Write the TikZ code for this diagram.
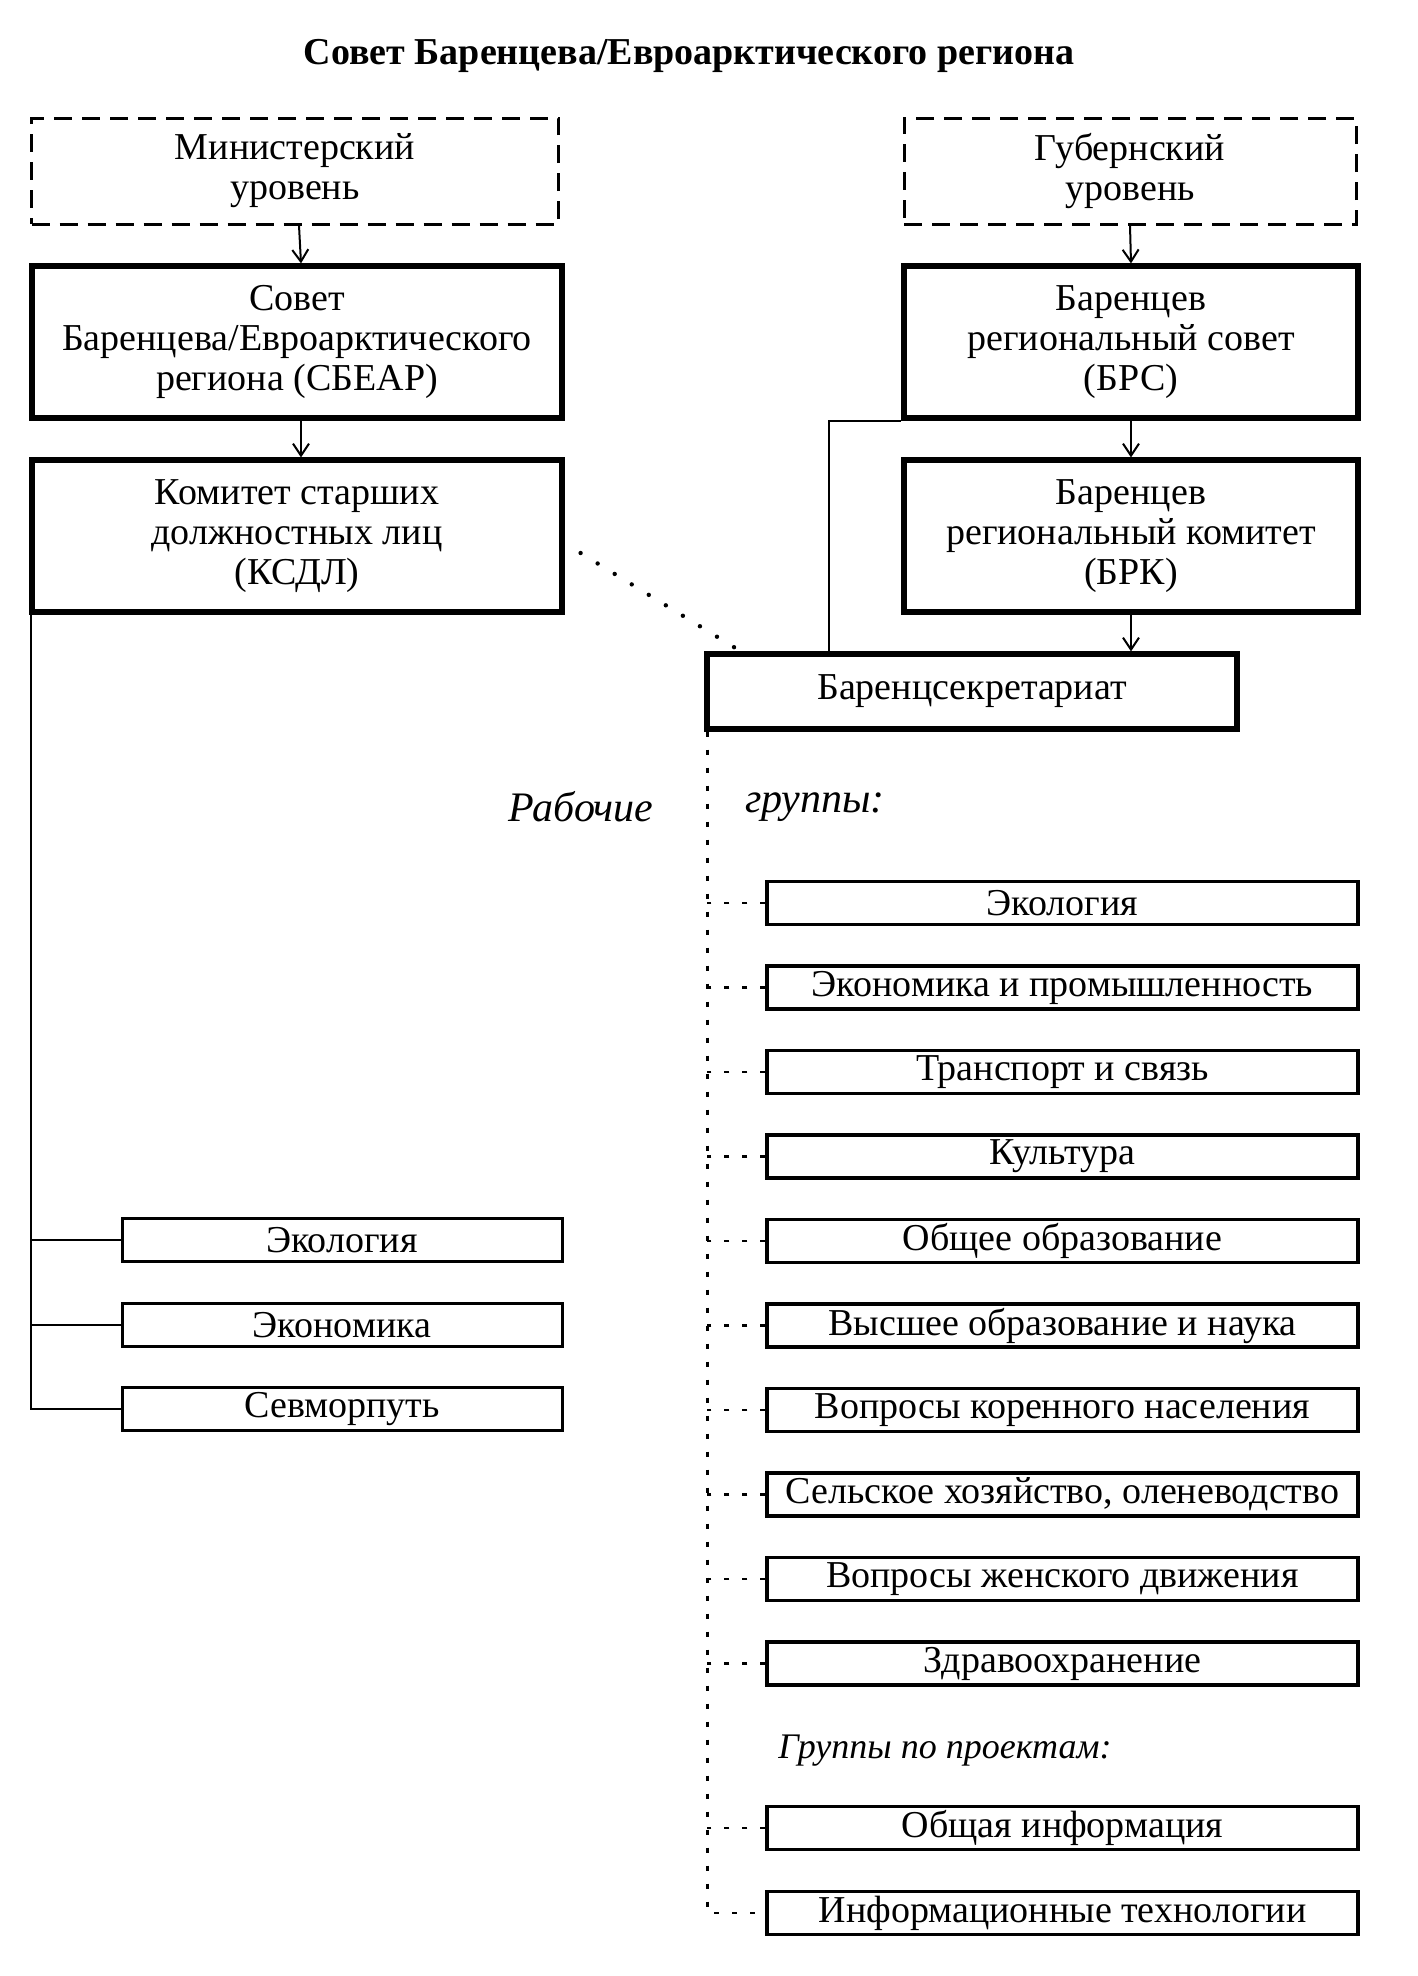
\documentclass[tikz,border=0pt]{standalone}
\usepackage{fontspec}
\setmainfont{Liberation Serif}
\usetikzlibrary{arrows.meta,calc}
\begin{document}
\begin{tikzpicture}[x=0.5pt,y=-0.5pt,
  txt/.style={font=\fontsize{19}{20}\selectfont},
  dbox/.style={txt,draw,line width=1.5pt,dash pattern=on 9pt off 5pt,align=center,inner sep=0pt},
  tbox/.style={txt,draw,line width=2.6pt,align=center,inner sep=0pt},
  lsmall/.style={txt,draw,line width=1.5pt,inner sep=0pt,minimum width=220pt,minimum height=21.5pt},
  rsmall/.style={txt,draw,line width=1.6pt,inner sep=0pt,minimum width=295.5pt,minimum height=21.5pt},
  conn/.style={line width=1pt},
  arr/.style={line width=1pt,-{Straight Barb[length=6pt,width=8pt,line width=1pt]}},
  dots/.style={line width=2.2pt,line cap=round,dash pattern=on 0pt off 10pt},
  dotline/.style={line width=1.4pt,dash pattern=on 2.5pt off 6.5pt},
  ital/.style={font=\itshape\fontsize{21}{24}\selectfont}]
\useasboundingbox (0,0) rectangle (1418,1976);
\node[font=\bfseries\fontsize{19}{24}\selectfont] (title) at (689,56) {Совет Баренцева/Евроарктического региона};
\node[dbox,minimum width=263.5pt,minimum height=53pt] (min) at (295,171) {Министерский\\уровень};
\node[dbox,minimum width=226pt,minimum height=53pt] (gub) at (1130,171) {Губернский\\уровень};
\node[tbox,minimum width=265pt,minimum height=76pt] (sbear) at (297,342) {Совет\\Баренцева/Евроарктического\\региона (СБЕАР)};
\node[tbox,minimum width=227pt,minimum height=76pt] (brs) at (1131,342) {Баренцев\\региональный совет\\(БРС)};
\node[tbox,minimum width=265pt,minimum height=76pt] (ksdl) at (297,536) {Комитет старших\\должностных лиц\\(КСДЛ)};
\node[tbox,minimum width=227pt,minimum height=76pt] (brk) at (1131,536) {Баренцев\\региональный комитет\\(БРК)};
\node[tbox,minimum width=265pt,minimum height=37.5pt] (secr) at (972,691.5) {Баренцсекретариат};
% arrows
\draw[arr] ([xshift=2pt]min.south) -- ([xshift=2pt]sbear.north);
\draw[arr] ([xshift=2pt]sbear.south) -- ([xshift=2pt]ksdl.north);
\draw[arr] (gub.south) -- (brs.north);
\draw[arr] (brs.south) -- (brk.north);
\draw[arr] (brk.south) -- (brk.south |- secr.north);
\draw[conn] ([xshift=62.5pt]secr.north west) |- (brs.south west);
\draw[dots] ([shift={(8pt,-8.5pt)}]ksdl.east) -- ([shift={(15pt,2pt)}]secr.north west);
% left branch
\node[lsmall] (leco) at (342,1240) {Экология};
\node[lsmall] (lecon) at (342,1325) {Экономика};
\node[lsmall] (lsev) at (342,1409) {Севморпуть};
\coordinate (lt) at ([xshift=1pt]ksdl.south west);
\draw[conn] (lt) |- (lsev.west);
\draw[conn] (leco.west) -- (leco.west -| lt);
\draw[conn] (lecon.west) -- (lecon.west -| lt);
% labels
\node[ital] (rab) at (581,807) {Рабочие};
\node[ital] (grp) at (815,807) {группы:};
% right groups
\node[rsmall] (r1) at (1062.5,903) {Экология};
\node[rsmall] (r2) at (1062.5,987.5) {Экономика и промышленность};
\node[rsmall] (r3) at (1062.5,1072) {Транспорт и связь};
\node[rsmall] (r4) at (1062.5,1156.5) {Культура};
\node[rsmall] (r5) at (1062.5,1241) {Общее образование};
\node[rsmall] (r6) at (1062.5,1325.5) {Высшее образование и наука};
\node[rsmall] (r7) at (1062.5,1410) {Вопросы коренного населения};
\node[rsmall] (r8) at (1062.5,1494.5) {Сельское хозяйство, оленеводство};
\node[rsmall] (r9) at (1062.5,1579) {Вопросы женского движения};
\node[rsmall] (r10) at (1062.5,1663.5) {Здравоохранение};
\node[font=\itshape\fontsize{18}{22}\selectfont] (proj) at (945,1751) {Группы по проектам:};
\node[rsmall] (r11) at (1062.5,1828) {Общая информация};
\node[rsmall] (r12) at (1062.5,1913) {Информационные технологии};
\coordinate (rt) at ([xshift=1.5pt]secr.south west);
\draw[dotline] (rt) |- (r12.west);
\foreach \b in {r1,r2,r3,r4,r5,r6,r7,r8,r9,r10,r11}
  \draw[dotline] (\b.west) -- (\b.west -| rt);
\end{tikzpicture}
\end{document}
